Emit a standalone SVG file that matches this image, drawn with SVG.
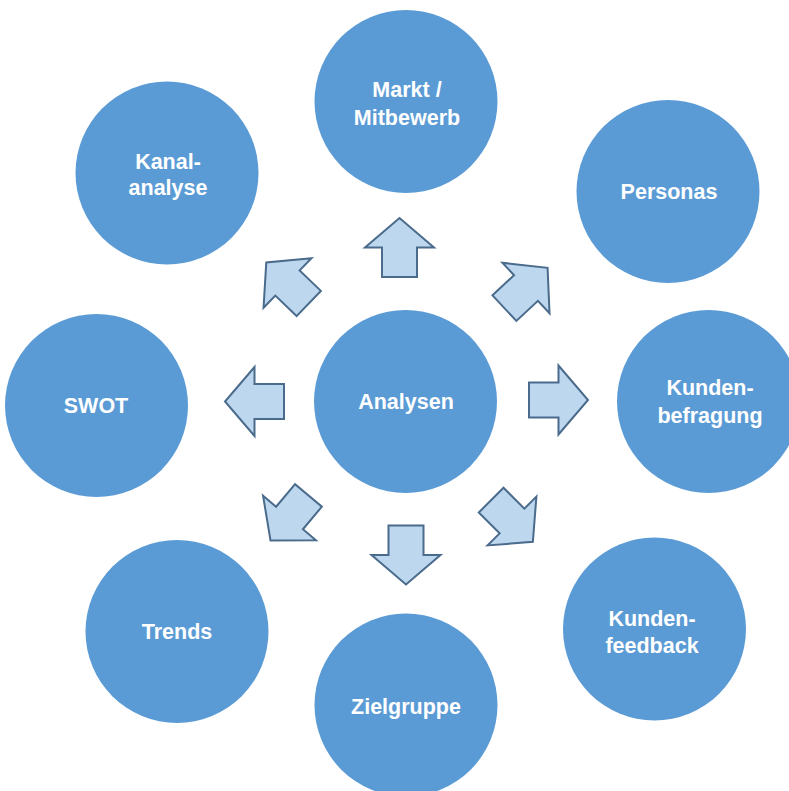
<svg xmlns="http://www.w3.org/2000/svg" width="789" height="791" viewBox="0 0 789 791">
<defs>
<style>
.n{fill:#5B9BD5;}
.t{fill:#ffffff;font-family:"Liberation Sans",Arial,sans-serif;font-weight:bold;font-size:21.5px;text-anchor:middle;}
.a{fill:#BDD7EE;stroke:#4A6B8C;stroke-width:2;stroke-linejoin:miter;}
</style>
<polygon id="arr" class="a" points="-29.5,-17.5 0,-17.5 0,-34.5 29.5,0 0,34.5 0,17.5 -29.5,17.5"/>
</defs>
<rect width="789" height="791" fill="#ffffff"/>
<g id="connectors">
<use href="#arr" transform="translate(399.5,247.5) rotate(-90)"/>
<use href="#arr" transform="translate(406,555) rotate(90)"/>
<use href="#arr" transform="translate(254.5,401.5) rotate(180)"/>
<use href="#arr" transform="translate(558.5,400)"/>
<use href="#arr" transform="translate(526,288) rotate(-43)"/>
<use href="#arr" transform="translate(287.5,283) rotate(-136)"/>
<use href="#arr" transform="translate(289.5,518) rotate(130)"/>
<use href="#arr" transform="translate(512,521) rotate(45)"/>
</g>
<g id="analysen"><circle class="n" cx="405.5" cy="401.5" r="91.5"/><text class="t" x="406" y="409">Analysen</text></g>
<g id="markt"><circle class="n" cx="406" cy="101.5" r="91.5"/><text class="t" x="407" y="97">Markt /</text><text class="t" x="407" y="125">Mitbewerb</text></g>
<g id="personas"><circle class="n" cx="668" cy="191.5" r="91.5"/><text class="t" x="669" y="199">Personas</text></g>
<g id="kundenbefragung"><circle class="n" cx="708.5" cy="401.5" r="91.5"/><text class="t" x="710" y="395">Kunden-</text><text class="t" x="710" y="423">befragung</text></g>
<g id="kundenfeedback"><circle class="n" cx="654.5" cy="629" r="91.5"/><text class="t" x="652" y="626">Kunden-</text><text class="t" x="652" y="653">feedback</text></g>
<g id="zielgruppe"><circle class="n" cx="406" cy="705" r="91.5"/><text class="t" x="406" y="714">Zielgruppe</text></g>
<g id="trends"><circle class="n" cx="177" cy="631.5" r="91.5"/><text class="t" x="177" y="639">Trends</text></g>
<g id="swot"><circle class="n" cx="96.5" cy="405.5" r="91.5"/><text class="t" x="96" y="413">SWOT</text></g>
<g id="kanalanalyse"><circle class="n" cx="167" cy="173" r="91.5"/><text class="t" x="168" y="169">Kanal-</text><text class="t" x="168" y="195">analyse</text></g>
</svg>
